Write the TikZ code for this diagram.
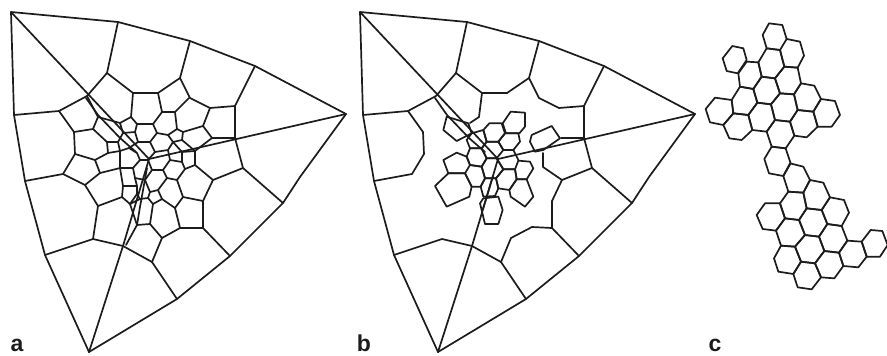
\documentclass[tikz,border=0pt]{standalone}
\usepackage{fontspec}
\setmainfont{Liberation Sans}
\definecolor{ink}{HTML}{1C1C1C}
\tikzset{
  edgeline/.style={draw=ink,line width=1.7pt,line join=round,line cap=round},
  zoomfive/.style={shift={(60,90)},scale=0.33333},
  zoomten/.style={shift={(420,70)},scale=0.33333},
  zoomeleven/.style={shift={(695,15)},scale=0.33333},
  zoomtwelve/.style={shift={(695,170)},scale=0.33333},
  panellabel/.style={anchor=base,font=\bfseries\fontsize{23}{23}\selectfont,text=ink,inner sep=0pt}
}
\newcommand{\commonedges}{%
  % outer triangle
  \draw[edgeline] (11,12)--(118,22)--(190,41)--(255,66)--(346,114)--(300,177)--(283,203)--(230,256)--(177,299)--(89,352)--(45,255)--(25,181)--(14,115)--cycle;
  % radial lines
  \draw[edgeline] (11,12)--(149,159);
  \draw[edgeline] (346,114)--(149,159);
  \draw[edgeline] (89,352)--(123,246)--(149,159);
  \draw[edgeline] (86,98)--(98,115)--(120,138)--(136,152);
  % outer cells
  \draw[edgeline] (118,22)--(107,73);
  \draw[edgeline] (14,115)--(59,111)--(87,96)--(107,73)--(133,93)--(158,93)--(180,78)--(190,98)--(210,108)--(235,106)--(255,66);
  \draw[edgeline] (190,41)--(180,78);
  \draw[edgeline] (235,106)--(235,138)--(243,168)--(283,203);
  \draw[edgeline] (45,255)--(93,239)--(123,246)--(152,262)--(177,299);
  \draw[edgeline] (243,168)--(213,180)--(203,201)--(203,228)--(230,256);
  \draw[edgeline] (25,181)--(63,174)--(75,154)--(74,132)--(59,111);
}
\begin{document}
\begin{tikzpicture}[x=1pt,y=-1pt]
\useasboundingbox (0,0) rectangle (887,356);
% ---------- panel a
\commonedges
\draw[edgeline] (126,245)--(137,225)--(140,207)--(147,168);
\draw[edgeline] (133,93)--(131,117)--(137,124)--(153,124)--(162,112)--(158,93);
\draw[edgeline] (162,112)--(175,112)--(189,98);
\draw[edgeline] (175,112)--(177,129)--(183,132)--(203,126)--(210,108);
\draw[edgeline] (203,126)--(212,138)--(235,138);
\draw[edgeline] (212,138)--(195,151)--(182,140)--(183,132);
\draw[edgeline] (177,129)--(168,135)--(173,142)--(182,140);
\draw[edgeline] (168,135)--(157,133)--(153,124);
\draw[edgeline] (137,124)--(135,132)--(138,142)--(150,142)--(157,133);
\draw[edgeline] (131,117)--(120,123)--(123,133)--(135,132);
\draw[edgeline] (87,96)--(98,117)--(120,123);
\draw[edgeline] (98,117)--(93,129)--(74,132);
\draw[edgeline] (93,129)--(107,142)--(118,142)--(123,133);
\draw[edgeline] (118,142)--(120,151)--(108,153)--(107,142);
\draw[edgeline] (108,153)--(95,160)--(75,154);
\draw[edgeline] (95,160)--(100,173)--(85,185)--(63,174);
\draw[edgeline] (100,173)--(120,168)--(120,151)--(129,148)--(137,153)--(140,160)--(133,168)--(120,168);
\draw[edgeline] (138,142)--(129,148);
\draw[edgeline] (140,160)--(148,160)--(155,152)--(150,142);
\draw[edgeline] (155,152)--(168,150)--(173,142);
\draw[edgeline] (168,150)--(170,160)--(163,170)--(152,170)--(148,160);
\draw[edgeline] (170,160)--(182,162)--(185,169)--(177,180)--(167,178)--(163,170);
\draw[edgeline] (182,162)--(182,152)--(173,142);
\draw[edgeline] (182,152)--(195,151)--(195,165)--(185,169);
\draw[edgeline] (195,165)--(213,180);
\draw[edgeline] (177,180)--(183,197)--(203,201);
\draw[edgeline] (183,197)--(175,208)--(162,199)--(158,190)--(167,178);
\draw[edgeline] (152,170)--(145,180)--(150,192)--(158,190);
\draw[edgeline] (133,168)--(135,178)--(145,180);
\draw[edgeline] (120,168)--(123,186)--(137,186)--(135,178);
\draw[edgeline] (123,186)--(122,197)--(98,206)--(85,185);
\draw[edgeline] (98,206)--(93,239);
\draw[edgeline] (122,197)--(130,204)--(137,194)--(137,186);
\draw[edgeline] (130,204)--(137,225)--(150,224)--(153,204)--(148,198)--(140,199)--(130,204);
\draw[edgeline] (137,194)--(140,199);
\draw[edgeline] (150,192)--(148,198);
\draw[edgeline] (153,204)--(162,199);
\draw[edgeline] (150,224)--(162,238)--(152,262);
\draw[edgeline] (162,238)--(180,228)--(203,228);
\draw[edgeline] (180,228)--(175,208);
% ---------- panel b
\begin{scope}[shift={(349,0)}]
\commonedges
\draw[edgeline] (133,93)--(130,117)--(121,123);
\draw[edgeline] (235,138)--(212,138);
\draw[edgeline] (194,153)--(194,167)--(213,180);
\draw[edgeline] (203,228)--(183,227)--(162,238)--(152,262);
\draw[edgeline] (134,209)--(144,176);
\end{scope}
\begin{scope}[zoomten]
\draw[edgeline] (80,140)--(145,160)--(155,190)--(110,213)--(70,180)--cycle;
\draw[edgeline] (248,160)--(272,125)--(315,128)--(315,170)--(298,190)--(258,190)--cycle;
\draw[edgeline] (190,180)--(208,160)--(245,160)--(255,190)--(235,215)--(200,215)--cycle;
\draw[edgeline] (155,190)--(190,180)--(200,215)--(185,235)--(150,235)--(140,210)--cycle;
\draw[edgeline] (255,190)--(295,190)--(300,215)--(280,240)--(250,240)--(235,215)--cycle;
\draw[edgeline] (185,235)--(200,215)--(235,215)--(250,240)--(230,265)--(200,265)--cycle;
\draw[edgeline] (150,235)--(185,235)--(200,265)--(185,290)--(150,285)--(140,260)--cycle;
\draw[edgeline] (280,240)--(295,270);
\draw[edgeline] (285,298)--(295,272)--(330,275)--(340,295)--(320,328)--(290,328)--cycle;
\draw[edgeline] (230,265)--(250,298)--(285,298);
\draw[edgeline] (185,290)--(200,265)--(230,265)--(250,298)--(228,325)--(195,325)--cycle;
\draw[edgeline] (250,298)--(285,298)--(290,328)--(268,360)--(235,355)--(228,325)--cycle;
\draw[edgeline] (268,360)--(290,328)--(320,328)--(340,380)--(315,410)--(272,380)--cycle;
\draw[edgeline] (195,325)--(228,325)--(235,355)--(225,378)--(190,380)--(182,350)--cycle;
\draw[edgeline] (190,385)--(235,380)--(248,420)--(235,462)--(195,462)--(180,400)--cycle;
\draw[edgeline] (140,260)--(150,285)--(135,310)--(85,310)--(70,270)--(110,248)--cycle;
\draw[edgeline] (85,310)--(135,310)--(155,350)--(148,380)--(80,410)--(45,348)--cycle;
\draw[edgeline] (150,285)--(185,290)--(195,325)--(182,350)--(155,350)--(135,310);
\draw[edgeline] (335,195)--(395,168)--(420,205)--(370,240)--(345,245)--(330,215)--cycle;
\end{scope}
% ---------- panel c
\begin{scope}[zoomeleven]
\draw[edgeline] (222,25)--(262,30)--(275,72)--(255,105)--(215,100)--(203,60)--cycle;
\draw[edgeline] (275,72)--(315,80)--(327,122)--(308,158)--(268,155)--(255,105);
\draw[edgeline] (112,93)--(145,100)--(155,135)--(128,175)--(95,168)--(83,130)--cycle;
\draw[edgeline] (130,175)--(155,140)--(190,142)--(200,185)--(175,222)--(135,215)--cycle;
\draw[edgeline] (190,142)--(215,100)--(255,105)--(268,155)--(240,190)--(200,185)--cycle;
\draw[edgeline] (268,155)--(308,158)--(318,205)--(297,238)--(255,235)--(240,190)--cycle;
\draw[edgeline] (175,222)--(200,185)--(240,190)--(255,235)--(228,268)--(187,263)--cycle;
\draw[edgeline] (110,255)--(135,215)--(175,222)--(187,263)--(160,300)--(115,295)--cycle;
\draw[edgeline] (60,248)--(110,255)--(115,295)--(85,330)--(45,322)--(32,282)--cycle;
\draw[edgeline] (85,330)--(115,295)--(160,300)--(172,345)--(140,375)--(103,370)--cycle;
\draw[edgeline] (160,300)--(187,263)--(228,268)--(240,315)--(215,350)--(172,345)--cycle;
\draw[edgeline] (228,268)--(255,235)--(297,238)--(308,285)--(285,320)--(240,315)--cycle;
\draw[edgeline] (297,238)--(318,205)--(358,212)--(378,252)--(355,290)--(308,285)--cycle;
\draw[edgeline] (355,290)--(378,252)--(420,258)--(435,300)--(410,335)--(368,335)--cycle;
\draw[edgeline] (285,320)--(308,285)--(355,290)--(368,335)--(335,367)--(298,362)--cycle;
\draw[edgeline] (215,350)--(240,315)--(285,320)--(298,362)--(272,400)--(230,395)--cycle;
\draw[edgeline] (230,395)--(272,400)--(287,445)--(265,483)--(222,475)--(208,432)--cycle;
\end{scope}
\begin{scope}[zoomtwelve]
\draw[edgeline] (265,18)--(285,-20)--(325,-10)--(345,30)--(325,68)--(280,65)--cycle;
\draw[edgeline] (345,30)--(385,38)--(405,82)--(380,120)--(335,115)--(325,68)--cycle;
\draw[edgeline] (280,65)--(325,68)--(335,115)--(312,150)--(270,145)--(255,100)--cycle;
\draw[edgeline] (405,82)--(447,90)--(462,128)--(440,168)--(397,162)--(380,120)--cycle;
\draw[edgeline] (335,115)--(380,120)--(397,162)--(372,200)--(330,195)--(312,150)--cycle;
\draw[edgeline] (210,100)--(255,100)--(270,145)--(243,182)--(203,177)--(185,135)--cycle;
\draw[edgeline] (243,182)--(270,145)--(312,150)--(330,195)--(300,230)--(258,227)--cycle;
\draw[edgeline] (372,200)--(397,162)--(440,168)--(457,212)--(432,248)--(388,243)--cycle;
\draw[edgeline] (300,230)--(330,195)--(372,200)--(388,243)--(360,280)--(318,275)--cycle;
\draw[edgeline] (432,248)--(457,212)--(500,215)--(515,260)--(490,292)--(445,288)--cycle;
\draw[edgeline] (500,215)--(527,180)--(562,183)--(578,225)--(555,260)--(515,260)--cycle;
\draw[edgeline] (258,227)--(300,230)--(318,275)--(295,312)--(250,305)--(237,265)--cycle;
\draw[edgeline] (360,280)--(388,243)--(432,248)--(445,288)--(418,325)--(378,322)--cycle;
\draw[edgeline] (295,312)--(318,275)--(360,280)--(378,322)--(350,358)--(308,352)--cycle;
\end{scope}
% ---------- labels
\node[panellabel] (la) at (17,351) {a};
\node[panellabel] (lb) at (364,351) {b};
\node[panellabel] (lc) at (715,351) {c};
\end{tikzpicture}
\end{document}
